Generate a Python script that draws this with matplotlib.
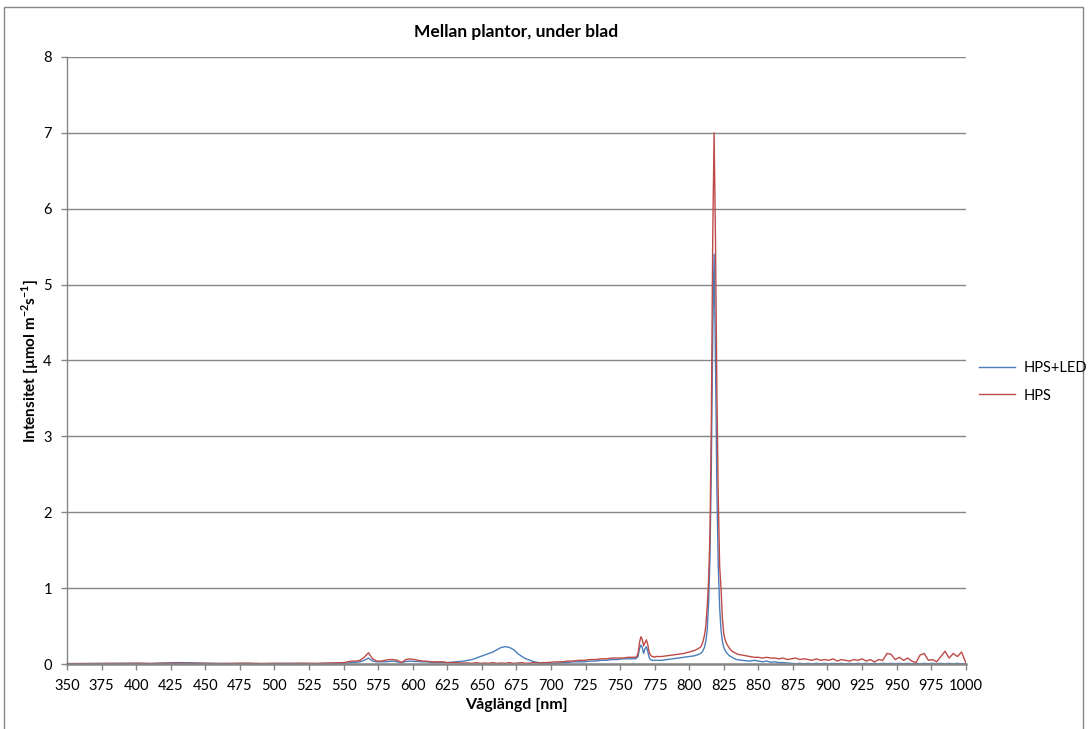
import matplotlib
matplotlib.use("Agg")
import matplotlib.pyplot as plt
from matplotlib.patches import Rectangle

plt.rcParams['font.family'] = ['Lato', 'DejaVu Sans']
plt.rcParams['mathtext.fontset'] = 'custom'
plt.rcParams['mathtext.rm'] = 'Lato'
plt.rcParams['mathtext.bf'] = 'Lato:bold'

# ---------------- data ----------------
wl_a = [350, 360, 370, 380, 390, 400, 410, 420, 430, 440, 450, 460, 470, 480, 490, 500, 510, 520, 530, 540]
hps_a = [0.005, 0.008, 0.006, 0.01, 0.007, 0.012, 0.008, 0.01, 0.012, 0.008, 0.01, 0.006, 0.01, 0.012, 0.008, 0.01, 0.008, 0.012, 0.01, 0.015]
led_a = [0.008, 0.006, 0.01, 0.008, 0.012, 0.01, 0.008, 0.015, 0.02, 0.018, 0.012, 0.01, 0.008, 0.01, 0.006, 0.008, 0.01, 0.008, 0.006, 0.01]

wl_b = [550, 553, 556, 559, 562, 565, 568, 571, 574, 577, 580, 583, 586, 589, 592, 595, 598, 601, 604, 607, 610, 613, 616, 619, 622, 625, 628, 631, 634, 637]
hps_b = [0.02, 0.03, 0.04, 0.04, 0.05, 0.09, 0.15, 0.07, 0.04, 0.04, 0.05, 0.06, 0.06, 0.05, 0.02, 0.06, 0.07, 0.06, 0.05, 0.04, 0.04, 0.03, 0.03, 0.03, 0.03, 0.02, 0.02, 0.02, 0.015, 0.015]
led_b = [0.01, 0.015, 0.02, 0.025, 0.03, 0.05, 0.08, 0.04, 0.03, 0.03, 0.03, 0.035, 0.04, 0.03, 0.02, 0.035, 0.04, 0.035, 0.035, 0.03, 0.03, 0.025, 0.02, 0.02, 0.02, 0.02, 0.025, 0.03, 0.035, 0.04]

wl_c = [640, 643, 646, 649, 652, 655, 658, 661, 664, 667, 670, 673, 676, 679, 682, 685, 688, 691, 694, 697, 700]
hps_c = [0.015, 0.01, 0.02, 0.01, 0.015, 0.01, 0.02, 0.01, 0.015, 0.01, 0.02, 0.01, 0.015, 0.02, 0.01, 0.015, 0.02, 0.015, 0.02, 0.02, 0.025]
led_c = [0.05, 0.06, 0.08, 0.1, 0.12, 0.14, 0.16, 0.19, 0.22, 0.23, 0.22, 0.19, 0.14, 0.1, 0.07, 0.05, 0.03, 0.02, 0.015, 0.01, 0.01]

wl_d = [704, 708, 712, 716, 720, 724, 728, 732, 736, 740, 744, 748, 752, 756, 760]
hps_d = [0.03, 0.03, 0.04, 0.04, 0.05, 0.05, 0.06, 0.06, 0.07, 0.07, 0.08, 0.08, 0.08, 0.09, 0.09]
led_d = [0.01, 0.02, 0.02, 0.03, 0.03, 0.03, 0.04, 0.04, 0.05, 0.05, 0.06, 0.06, 0.07, 0.07, 0.07]

wl_e = [761, 762, 763, 764, 765, 766, 767, 768, 769, 770, 771, 772, 773, 774, 775, 776]
hps_e = [0.09, 0.1, 0.14, 0.28, 0.36, 0.33, 0.24, 0.28, 0.32, 0.26, 0.16, 0.12, 0.1, 0.1, 0.09, 0.1]
led_e = [0.07, 0.08, 0.1, 0.2, 0.25, 0.22, 0.14, 0.2, 0.23, 0.17, 0.09, 0.06, 0.05, 0.05, 0.05, 0.05]

wl_f = [780, 784, 788, 792, 796, 800, 804]
hps_f = [0.1, 0.11, 0.12, 0.13, 0.14, 0.16, 0.18]
led_f = [0.05, 0.06, 0.07, 0.08, 0.09, 0.1, 0.11]

wl_g = [805, 806, 807, 808, 809, 810, 811, 812, 813, 814, 815, 816, 817, 818, 819, 820,
        821, 822, 823, 824, 825, 826, 827, 828, 829, 830, 831, 832, 833, 834, 835]
hps_g = [0.19, 0.2, 0.21, 0.22, 0.25, 0.3, 0.38, 0.5, 0.75, 1.1, 1.7, 3.2, 5.6, 7.0, 5.6, 3.6,
         2.2, 1.3, 1.0, 0.6, 0.4, 0.32, 0.27, 0.24, 0.21, 0.19, 0.17, 0.16, 0.15, 0.14, 0.13]
led_g = [0.12, 0.12, 0.13, 0.14, 0.15, 0.18, 0.22, 0.3, 0.45, 0.8, 1.4, 2.6, 4.3, 5.4, 4.0, 2.3,
         1.3, 0.75, 0.45, 0.3, 0.22, 0.18, 0.15, 0.13, 0.11, 0.1, 0.09, 0.08, 0.07, 0.06, 0.06]

wl_h = [838, 841, 844, 847, 850, 853, 856, 859, 862, 865, 868, 871, 874, 877, 880, 883, 886, 889, 892, 895,
        898, 901, 904, 907, 910, 913, 916, 919, 922, 925, 928, 931, 934, 937, 940, 943, 946, 949, 952, 955,
        958, 961, 964, 967, 970, 973, 976, 979, 982, 985, 988, 991, 994, 997, 1000]
hps_h = [0.12, 0.11, 0.1, 0.09, 0.09, 0.08, 0.09, 0.08, 0.08, 0.07, 0.08, 0.06, 0.07, 0.08, 0.06, 0.07, 0.06, 0.05, 0.07, 0.05,
         0.06, 0.05, 0.07, 0.04, 0.06, 0.05, 0.04, 0.06, 0.05, 0.07, 0.04, 0.06, 0.03, 0.06, 0.05, 0.14, 0.13, 0.06, 0.09, 0.05,
         0.08, 0.04, 0.02, 0.12, 0.14, 0.05, 0.06, 0.03, 0.1, 0.17, 0.08, 0.14, 0.1, 0.16, 0.02]
led_h = [0.05, 0.045, 0.04, 0.05, 0.04, 0.03, 0.04, 0.025, 0.03, 0.02, 0.02, 0.015, 0.01, 0.005, 0.01, 0.005, 0.01, 0.005, 0.01, 0.005,
         0.01, 0.005, 0.01, 0.005, 0.01, 0.005, 0.01, 0.005, 0.01, 0.005, 0.01, 0.005, 0.01, 0.005, 0.01, 0.005, 0.01, 0.005, 0.01, 0.005,
         0.01, 0.005, 0.01, 0.005, 0.01, 0.005, 0.01, 0.005, 0.01, 0.005, 0.01, 0.005, 0.01, 0.005, 0.005]

wavelength = wl_a + wl_b + wl_c + wl_d + wl_e + wl_f + wl_g + wl_h
hps = hps_a + hps_b + hps_c + hps_d + hps_e + hps_f + hps_g + hps_h
hps_led = led_a + led_b + led_c + led_d + led_e + led_f + led_g + led_h

x_ticks = list(range(350, 1001, 25))
y_ticks = [0, 1, 2, 3, 4, 5, 6, 7, 8]

title = "Mellan plantor, under blad"
xlabel = "Våglängd [nm]"
ylabel = r"Intensitet [µmol m$^{\mathbf{-2}}$s$^{\mathbf{-1}}$]"

# ---------------- figure ----------------
fig = plt.figure(figsize=(10.9, 7.29), dpi=100)
ax = fig.add_axes([0.0615, 0.089, 0.8245, 0.833])

grid_c = "#868686"
blue = "#4a7ebb"
red = "#be4b48"

ax.plot(wavelength, hps_led, color=blue, lw=1.0, label="HPS+LED", zorder=3)
ax.plot(wavelength, hps, color=red, lw=1.0, label="HPS", zorder=4)

ax.set_xlim(350, 1000)
ax.set_ylim(0, 8)
ax.set_xticks(x_ticks)
ax.set_yticks(y_ticks)
ax.grid(axis='y', color=grid_c, lw=1.0, zorder=0)
ax.set_axisbelow(True)

for s in ['top', 'right']:
    ax.spines[s].set_visible(False)
ax.spines['left'].set_color(grid_c)
ax.spines['left'].set_linewidth(1.0)
ax.spines['bottom'].set_color(grid_c)
ax.spines['bottom'].set_linewidth(1.8)
ax.spines['bottom'].set_zorder(5)

ax.tick_params(axis='both', direction='out', colors=grid_c, labelcolor='black', labelsize=10.5, length=4, width=1)
ax.tick_params(axis='x', pad=7)
ax.tick_params(axis='y', pad=7)

ax.set_title(title, fontsize=12.5, fontweight='bold', pad=14)
ax.set_xlabel(xlabel, fontsize=11.5, fontweight='bold', labelpad=3)
ax.set_ylabel(ylabel, fontsize=11, fontweight='bold')
ax.yaxis.set_label_coords(-0.029, 0.5)

fig.legend(loc='center left', bbox_to_anchor=(0.886, 0.476), frameon=False, fontsize=10.5,
           handlelength=2.5, handletextpad=0.6, labelspacing=0.9)

fig.patches.append(Rectangle((0.004, -0.05), 0.99, 1.04, transform=fig.transFigure,
                             fill=False, edgecolor=grid_c, lw=1.0))

fig.savefig("out.png", dpi=100)
